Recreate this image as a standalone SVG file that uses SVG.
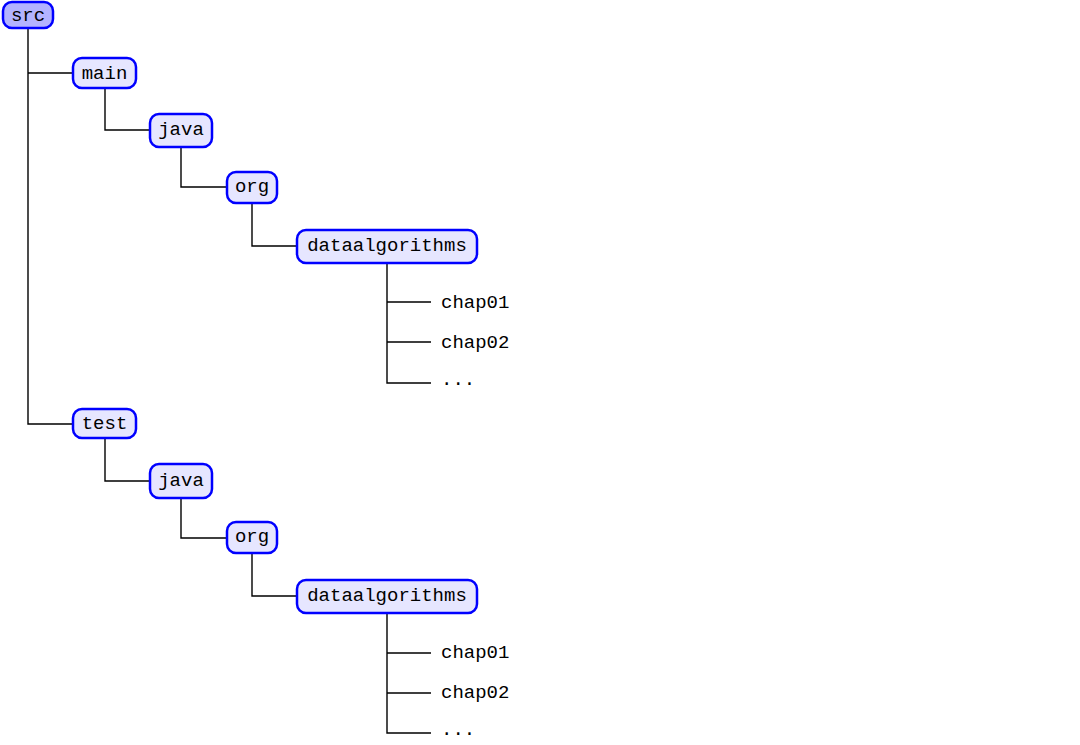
<svg xmlns="http://www.w3.org/2000/svg" width="1080" height="745" viewBox="0 0 1080 745">
<style>
.box{fill:#e6e6ff;stroke:#0000ff;stroke-width:2.5}
.root{fill:#b3b3ff;stroke:#0000ff;stroke-width:2.5}
.t{font-family:"Liberation Mono","DejaVu Sans Mono",monospace;font-size:19px;fill:#000}
.c{text-anchor:middle}
.conn path{fill:none;stroke:#000;stroke-width:1.4}
</style>
<rect width="1080" height="745" fill="#fff"/>
<g class="conn">
<path d="M28 28V424H73M28 73H73"/>
<path d="M105 88V130H150M181 147V187H227M252 203V246H297"/>
<path d="M387 263V383H431M387 302H431M387 342H431"/>
<path d="M105 438V481H150M181 498V538H227M252 553V596H297"/>
<path d="M387 613V733H431M387 653H431M387 693H431"/>
</g>
<g id="src"><rect class="root" x="3" y="2" width="50" height="26" rx="9"/><text class="t c" x="28" y="21">src</text></g>
<g id="main"><rect class="box" x="73" y="58" width="63" height="30" rx="9"/><text class="t c" x="104.5" y="79">main</text></g>
<g id="java1"><rect class="box" x="150" y="114" width="62" height="33" rx="9"/><text class="t c" x="181" y="135">java</text></g>
<g id="org1"><rect class="box" x="227" y="172" width="50" height="31" rx="9"/><text class="t c" x="252" y="192">org</text></g>
<g id="data1"><rect class="box" x="297" y="230" width="180" height="33" rx="9"/><text class="t c" x="387" y="251">dataalgorithms</text></g>
<g id="chap01a"><text class="t" x="441" y="308">chap01</text></g>
<g id="chap02a"><text class="t" x="441" y="348">chap02</text></g>
<g id="dotsa"><text class="t" x="441" y="385">...</text></g>
<g id="test"><rect class="box" x="73" y="409" width="63" height="29" rx="9"/><text class="t c" x="104.5" y="429">test</text></g>
<g id="java2"><rect class="box" x="150" y="464" width="62" height="34" rx="9"/><text class="t c" x="181" y="486">java</text></g>
<g id="org2"><rect class="box" x="227" y="522" width="50" height="31" rx="9"/><text class="t c" x="252" y="542">org</text></g>
<g id="data2"><rect class="box" x="297" y="580" width="180" height="33" rx="9"/><text class="t c" x="387" y="601">dataalgorithms</text></g>
<g id="chap01b"><text class="t" x="441" y="658">chap01</text></g>
<g id="chap02b"><text class="t" x="441" y="698">chap02</text></g>
<g id="dotsb"><text class="t" x="441" y="735">...</text></g>
</svg>
